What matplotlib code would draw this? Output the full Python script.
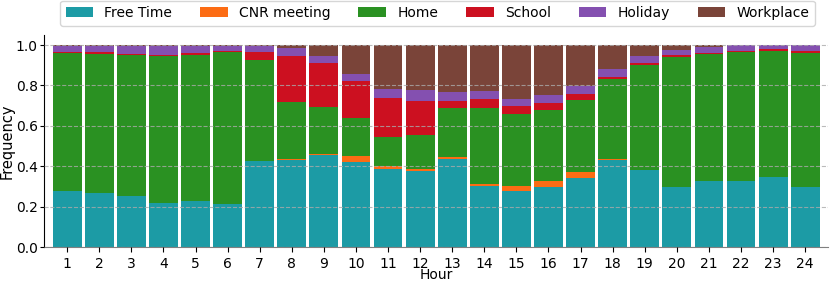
import matplotlib
matplotlib.use("Agg")
import matplotlib.pyplot as plt
import numpy as np

hours = list(range(1, 25))
categories = ["Free Time", "CNR meeting", "Home", "School", "Holiday", "Workplace"]
colors = ["#1c9ba5", "#fc6c14", "#2a9122", "#cc1020", "#8450b0", "#7a4439"]

# cumulative tops
free_top = [0.280, 0.268, 0.252, 0.220, 0.230, 0.215, 0.428, 0.433, 0.454, 0.423, 0.385, 0.375,
            0.436, 0.301, 0.280, 0.296, 0.340, 0.431, 0.382, 0.299, 0.327, 0.329, 0.345, 0.299]
cnr_top = [0.280, 0.268, 0.252, 0.220, 0.230, 0.215, 0.428, 0.435, 0.462, 0.452, 0.400, 0.387,
           0.446, 0.313, 0.301, 0.329, 0.373, 0.438, 0.382, 0.299, 0.327, 0.329, 0.345, 0.299]
home_top = [0.959, 0.956, 0.949, 0.946, 0.951, 0.965, 0.926, 0.719, 0.694, 0.640, 0.546, 0.554,
            0.686, 0.689, 0.658, 0.679, 0.729, 0.832, 0.903, 0.942, 0.956, 0.967, 0.970, 0.962]
school_top = [0.965, 0.964, 0.957, 0.952, 0.959, 0.970, 0.964, 0.947, 0.913, 0.821, 0.737, 0.725,
              0.725, 0.732, 0.696, 0.711, 0.760, 0.840, 0.910, 0.949, 0.962, 0.972, 0.979, 0.969]
holiday_top = [0.997, 0.997, 0.997, 0.997, 0.997, 0.997, 0.997, 0.985, 0.946, 0.857, 0.781, 0.775,
               0.770, 0.771, 0.735, 0.753, 0.798, 0.882, 0.946, 0.977, 0.992, 0.998, 0.998, 0.998]

free = np.array(free_top)
cnr = np.array(cnr_top) - np.array(free_top)
home = np.array(home_top) - np.array(cnr_top)
school = np.array(school_top) - np.array(home_top)
holiday = np.array(holiday_top) - np.array(school_top)
workplace = 1.0 - np.array(holiday_top)
series = [free, cnr, home, school, holiday, workplace]

fig = plt.figure(figsize=(8.31, 2.84), dpi=100)
ax = fig.add_axes([0.053, 0.130, 0.943, 0.747])

bottom = np.zeros(len(hours))
for name, vals, c in zip(categories, series, colors):
    ax.bar(hours, vals, bottom=bottom, width=0.9, color=c, label=name,
           edgecolor="none")
    bottom += vals

ax.set_xlim(0.28, 24.7)
ax.set_ylim(0, 1.05)
ax.set_xticks(hours)
ax.set_yticks([0.0, 0.2, 0.4, 0.6, 0.8, 1.0])
ax.set_yticklabels(["0.0", "0.2", "0.4", "0.6", "0.8", "1.0"])
ax.tick_params(labelsize=10)
ax.tick_params(axis="y", length=3, pad=1.5)
ax.set_xlabel("Hour", fontsize=10)
ax.set_ylabel("Frequency", fontsize=10.5)
ax.xaxis.set_label_coords(0.5, -0.10)
ax.yaxis.set_label_coords(-0.037, 0.5)
ax.spines["top"].set_visible(False)
ax.spines["right"].set_visible(False)
ax.spines["bottom"].set_color("#808080")
ax.set_axisbelow(False)
ax.yaxis.grid(True, linestyle="--", color="#aaaaaa", alpha=0.8, linewidth=0.8)

ax.legend(loc="upper center", bbox_to_anchor=(0.5265, 0.998), bbox_transform=fig.transFigure,
          ncol=6, fontsize=10, frameon=True, handlelength=2.0, handletextpad=0.8,
          columnspacing=2.0, borderaxespad=0.0)

fig.savefig("out.png", dpi=100)
